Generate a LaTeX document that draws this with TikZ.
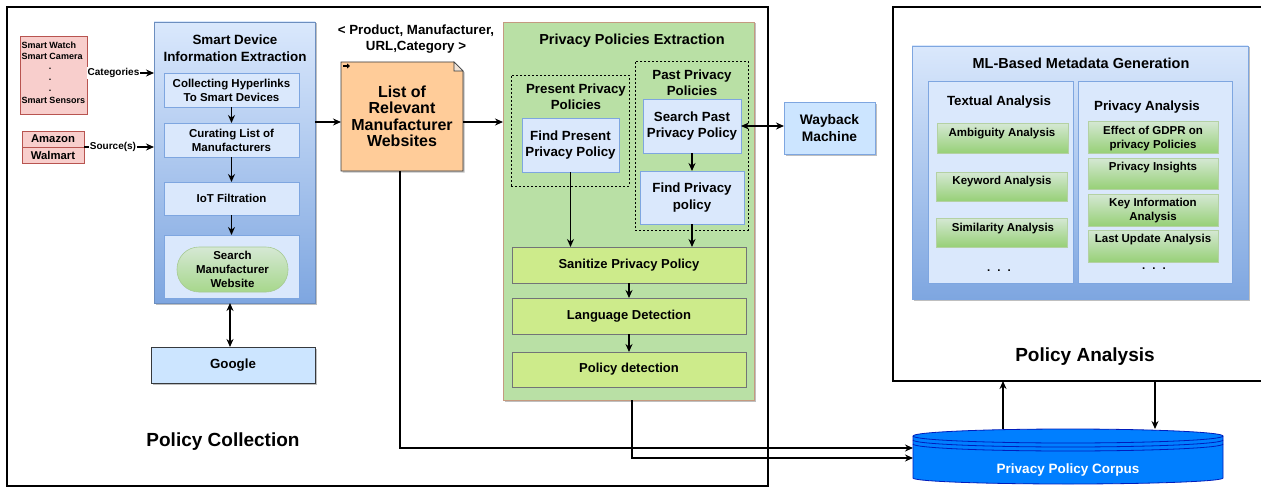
\documentclass[tikz,border=0pt]{standalone}
\usepackage{fontspec}
\setmainfont{Liberation Sans}
\usetikzlibrary{arrows.meta,backgrounds,shadows,calc}
\definecolor{bluelt}{HTML}{DAE8FC}
\definecolor{bluedk}{HTML}{7EA6E0}
\definecolor{blueln}{HTML}{6C8EBF}
\definecolor{pinkf}{HTML}{F8CECC}
\definecolor{pinkd}{HTML}{B85450}
\definecolor{orangef}{HTML}{FFCC99}
\definecolor{darkln}{HTML}{36393D}
\definecolor{greenf}{HTML}{B9E0A5}
\definecolor{greenbd}{HTML}{C49A80}
\definecolor{limef}{HTML}{CDEB8B}
\definecolor{greenlt}{HTML}{D5E8D4}
\definecolor{greendk}{HTML}{97D077}
\definecolor{greenln}{HTML}{82B366}
\definecolor{skyf}{HTML}{CCE5FF}
\definecolor{corpf}{HTML}{007FFF}
\definecolor{corpd}{HTML}{001DBC}
\tikzset{
  every node/.style={inner sep=0pt, outer sep=0pt},
  sz/.style 2 args={minimum width=#1pt, minimum height=#2pt},
  ft/.style 2 args={font=\bfseries\fontsize{#1pt}{#2pt}\selectfont, align=center},
  frame/.style={draw=black, line width=1.5pt},
  shad/.style={drop shadow={shadow xshift=1.5pt, shadow yshift=-1.5pt, opacity=0.25, fill=black}},
  gradbox/.style={draw=blueln, top color=bluelt, bottom color=bluedk, line width=0.8pt},
  bluebox/.style={draw=bluedk, fill=bluelt, line width=0.8pt, ft={11.5}{14}},
  bluebig/.style={draw=bluedk, fill=bluelt, line width=0.8pt, ft={13.3}{16.5}},
  limebox/.style={draw=darkln!70, fill=limef, line width=0.8pt, ft={13}{16}},
  greenbox/.style={draw=greenln!60, top color=greenlt, bottom color=greendk, line width=0.5pt},
  dashbox/.style={draw=black, line width=0.8pt, dash pattern=on 2pt off 2pt},
  pinkbox/.style={draw=pinkd, fill=pinkf, line width=0.8pt},
  arr/.style={-{Stealth[length=8pt,width=7pt]}, line width=1.5pt},
  darr/.style={{Stealth[length=8pt,width=7pt]}-{Stealth[length=8pt,width=7pt]}, line width=1.5pt},
}
\begin{document}
\begin{tikzpicture}[x=1pt,y=-1pt]
\useasboundingbox (0,0) rectangle (1261,487);
\begin{scope}[on background layer]
\fill[white] (0,0) rectangle (1261,487);
\end{scope}

% ---------- frames
\node[frame, sz={761}{479}] (pcol) at (387.5,246.5) {};
\node[frame, sz={382}{374}] (pana) at (1084,194) {};
\node[ft={19}{22}] (pcolt) at (223,442) {Policy Collection};
\node[ft={19}{22}] (panat) at (1085,357) {Policy Analysis};

% ---------- smart device info extraction
\node[gradbox, shad, sz={161}{281}] (sdie) at (234.5,162.5) {};
\node[ft={13.4}{17}] (sdiet) at (235,48.5) {Smart Device\\Information Extraction};
\node[bluebox, sz={135}{34}] (coll) at (231.5,90) {Collecting Hyperlinks\\To Smart Devices};
\node[bluebox, sz={135}{34}] (cur) at (231.5,140) {Curating List of\\Manufacturers};
\node[bluebox, sz={135}{33}] (iot) at (231.5,198.5) {IoT Filtration};
\node[bluebox, sz={135}{63}] (srchc) at (231.5,266.5) {};
\node[draw=greenln!70, top color=greenlt, bottom color=greendk!85, rounded corners=22pt, line width=0.6pt, sz={111}{45}, ft={11.5}{14}] (pill) at (232.5,269.5) {Search\\Manufacturer\\Website};
\draw[arr] (coll.south) -- (cur.north);
\draw[arr] (cur.south) -- (iot.north);
\draw[arr] (iot.south) -- (srchc.north);

\node[draw=darkln, fill=skyf, line width=0.8pt, shad, sz={164}{36}, ft={13.3}{16}] (google) at (233,365) {Google};
\coordinate (g1) at (230,0);
\draw[darr] (google.north -| g1) -- (sdie.south -| g1);

% ---------- sources
\node[pinkbox, sz={67}{78}] (devices) at (53.5,75) {};
\node[anchor=base west, ft={9}{11}] (dv1) at (21.5,48.5) {Smart Watch};
\node[anchor=base west, ft={9}{11}] (dv2) at (21.5,59.5) {Smart Camera};
\node[anchor=base, ft={9}{11}] (dv3) at (50,70) {.};
\node[anchor=base, ft={9}{11}] (dv4) at (50,81) {.};
\node[anchor=base, ft={9}{11}] (dv5) at (50,92) {.};
\node[anchor=base west, ft={9}{11}] (dv6) at (21.5,103.5) {Smart Sensors};
\node[pinkbox, sz={62}{16}, ft={11.3}{13}] (amazon) at (53,139) {Amazon};
\node[pinkbox, sz={62}{16}, ft={11.3}{13}] (walmart) at (53,155) {Walmart};

\coordinate (catl) at (0,73);
\draw[arr] (devices.east |- catl) -- (sdie.west |- catl);
\node[fill=white, inner xsep=1pt, inner ysep=1.5pt, ft={10}{12}] (catt) at (113.5,73) {Categories};
\draw[arr] (amazon.south east) -- (sdie.west |- amazon.south east);
\node[fill=white, inner xsep=1pt, inner ysep=1.5pt, ft={10}{12}] (srct) at (113,147) {Source(s)};

% ---------- list of manufacturer websites
\node[sz={122}{109}, ft={16}{16.5}] (listn) at (402,116.5) {List of\\Relevant\\Manufacturer\\Websites};
\begin{scope}[on background layer]
\draw[fill=orangef, draw=darkln, line width=0.8pt, drop shadow={shadow xshift=1.5pt, shadow yshift=-1.5pt, opacity=0.25, fill=black}]
  (listn.north west) -- ([xshift=-9pt]listn.north east) -- ([yshift=-9pt]listn.north east)
  -- (listn.south east) -- (listn.south west) -- cycle;
\draw[fill=orangef!80!black!30!white, draw=darkln, line width=0.6pt]
  ([xshift=-9pt]listn.north east) -- ([xshift=-9pt,yshift=-9pt]listn.north east) -- ([yshift=-9pt]listn.north east) -- cycle;
\end{scope}
\draw[-{Triangle[length=3pt,width=5pt]}, line width=1.6pt] ([xshift=2pt,yshift=-4pt]listn.north west) -- ([xshift=9pt,yshift=-4pt]listn.north west);
\node[ft={13.3}{16}] (tuple) at (416,39) {< Product, Manufacturer,\\URL,Category >};

\path ($(listn.west)+(0,5.5)$) coordinate (lw) ($(listn.east)+(0,5.5)$) coordinate (le);
\draw[arr] (sdie.east |- lw) -- (lw);

% ---------- privacy policies extraction
\node[draw=greenbd, fill=greenf, line width=0.6pt, shad, sz={251}{378}] (ppe) at (628.5,211) {};
\draw[arr] (le) -- (le -| ppe.west);
\node[ft={14.5}{17}] (ppet) at (632,41) {Privacy Policies Extraction};
\node[dashbox, sz={118}{111}] (pres) at (570,130.5) {};
\node[ft={13.3}{16}] (prest) at (576,97) {Present Privacy\\Policies};
\node[bluebig, sz={97}{54}] (findpres) at (570.5,145) {Find Present\\Privacy Policy};
\node[dashbox, sz={113}{169}] (past) at (691.5,145.5) {};
\node[ft={13.3}{16.5}] (pastt) at (692,82.5) {Past Privacy\\Policies};
\node[bluebig, sz={98}{54}] (searchpast) at (692,126) {Search Past\\Privacy Policy};
\node[bluebig, sz={104}{53}] (findpp) at (692,197.5) {Find Privacy\\policy};
\node[limebox, sz={234}{36}] (sanitize) at (629,265) {Sanitize Privacy Policy};
\node[limebox, sz={234}{36}] (lang) at (629,316) {Language Detection};
\node[limebox, sz={234}{35}] (poldet) at (629,369.5) {Policy detection};
\draw[arr] (findpres.south) -- (findpres.south |- sanitize.north);
\draw[arr] (searchpast.south) -- (findpp.north);
\draw[arr] (findpp.south) -- (findpp.south |- sanitize.north);
\draw[arr] (sanitize.south) -- (lang.north);
\draw[arr] (lang.south) -- (poldet.north);

\node[draw=bluedk, fill=skyf, line width=0.8pt, shad, sz={91}{52}, ft={13.8}{17.5}] (wayback) at (829.5,128) {Wayback\\Machine};
\draw[darr] (searchpast.east) -- (searchpast.east -| wayback.west);

% ---------- ML-based metadata generation
\node[draw=bluedk, top color=bluelt, bottom color=bluedk, line width=0.8pt, shad, sz={336}{253}] (ml) at (1080,172.5) {};
\node[ft={14.5}{17}] (mlt) at (1081,63) {ML-Based Metadata Generation};
\node[draw=bluedk, fill=bluelt, line width=0.8pt, sz={145}{202}] (textual) at (1000.5,182) {};
\node[draw=bluedk, fill=bluelt, line width=0.8pt, sz={154}{202}] (privan) at (1155,182) {};
\node[ft={13.3}{16}] (textualt) at (999,102) {Textual Analysis};
\node[ft={13.3}{16}] (privant) at (1147,107) {Privacy Analysis};

\node[greenbox, sz={131}{30}] (amb) at (1002.5,138) {};
\node[ft={11.5}{14}] (ambt) at (1002,134) {Ambiguity Analysis};
\node[greenbox, sz={131}{29}] (kw) at (1001.5,186.5) {};
\node[ft={11.5}{14}] (kwt) at (1002,182) {Keyword Analysis};
\node[greenbox, sz={131}{29}] (sim) at (1001.5,232.5) {};
\node[ft={11.5}{14}] (simt) at (1003,229) {Similarity Analysis};
\node[ft={11.5}{14}] (dots1) at (999,271) {.\hspace{7pt}.\hspace{7pt}.};

\node[greenbox, sz={130}{32}] (gdpr) at (1153,137) {};
\node[ft={11.5}{13.5}] (gdprt) at (1153,138.5) {Effect of GDPR on\\privacy Policies};
\node[greenbox, sz={130}{31}] (ins) at (1153,173.5) {};
\node[ft={11.5}{14}] (inst) at (1153,168) {Privacy Insights};
\node[greenbox, sz={130}{32}] (key) at (1153,210) {};
\node[ft={11.5}{14}] (keyt) at (1153,211) {Key Information\\Analysis};
\node[greenbox, sz={130}{32}] (last) at (1153,246) {};
\node[ft={11.5}{14}] (lastt) at (1153,240) {Last Update Analysis};
\node[ft={11.5}{14}] (dots2) at (1154,269) {.\hspace{7pt}.\hspace{7pt}.};

% ---------- corpus
\node[sz={310}{48}] (corpus) at (1068,453) {};
\fill[corpf] (913,436) -- (913,478) arc[start angle=180, end angle=360, x radius=155pt, y radius=6pt]
  -- (1223,436) arc[start angle=0, end angle=180, x radius=155pt, y radius=7pt] -- cycle;
\draw[corpd, line width=0.8pt] (913,436) -- (913,478) arc[start angle=180, end angle=360, x radius=155pt, y radius=6pt]
  -- (1223,436) arc[start angle=0, end angle=180, x radius=155pt, y radius=7pt];
\draw[corpd, line width=0.8pt] (913,436) arc[start angle=180, end angle=360, x radius=155pt, y radius=7pt];
\draw[corpd, line width=0.8pt] (913,440) arc[start angle=180, end angle=360, x radius=155pt, y radius=7pt];
\draw[corpd, line width=0.8pt] (913,444) arc[start angle=180, end angle=360, x radius=155pt, y radius=7pt];
\node[text=white, ft={13.5}{16}] (corpust) at (1068,470) {Privacy Policy Corpus};

\path ($(corpus.west)+(0,-5)$) coordinate (cin1) ($(corpus.west)+(0,5)$) coordinate (cin2);
\draw[arr] ([xshift=-2pt]listn.south) |- (cin1);
\draw[arr] ([xshift=3.5pt]ppe.south) |- (cin2);
\coordinate (up1) at (1003,0);
\coordinate (dn1) at (1155,0);
\draw[arr] (corpus.north -| up1) -- (pana.south -| up1);
\draw[arr] (pana.south -| dn1) -- (corpus.north -| dn1);
\end{tikzpicture}
\end{document}
